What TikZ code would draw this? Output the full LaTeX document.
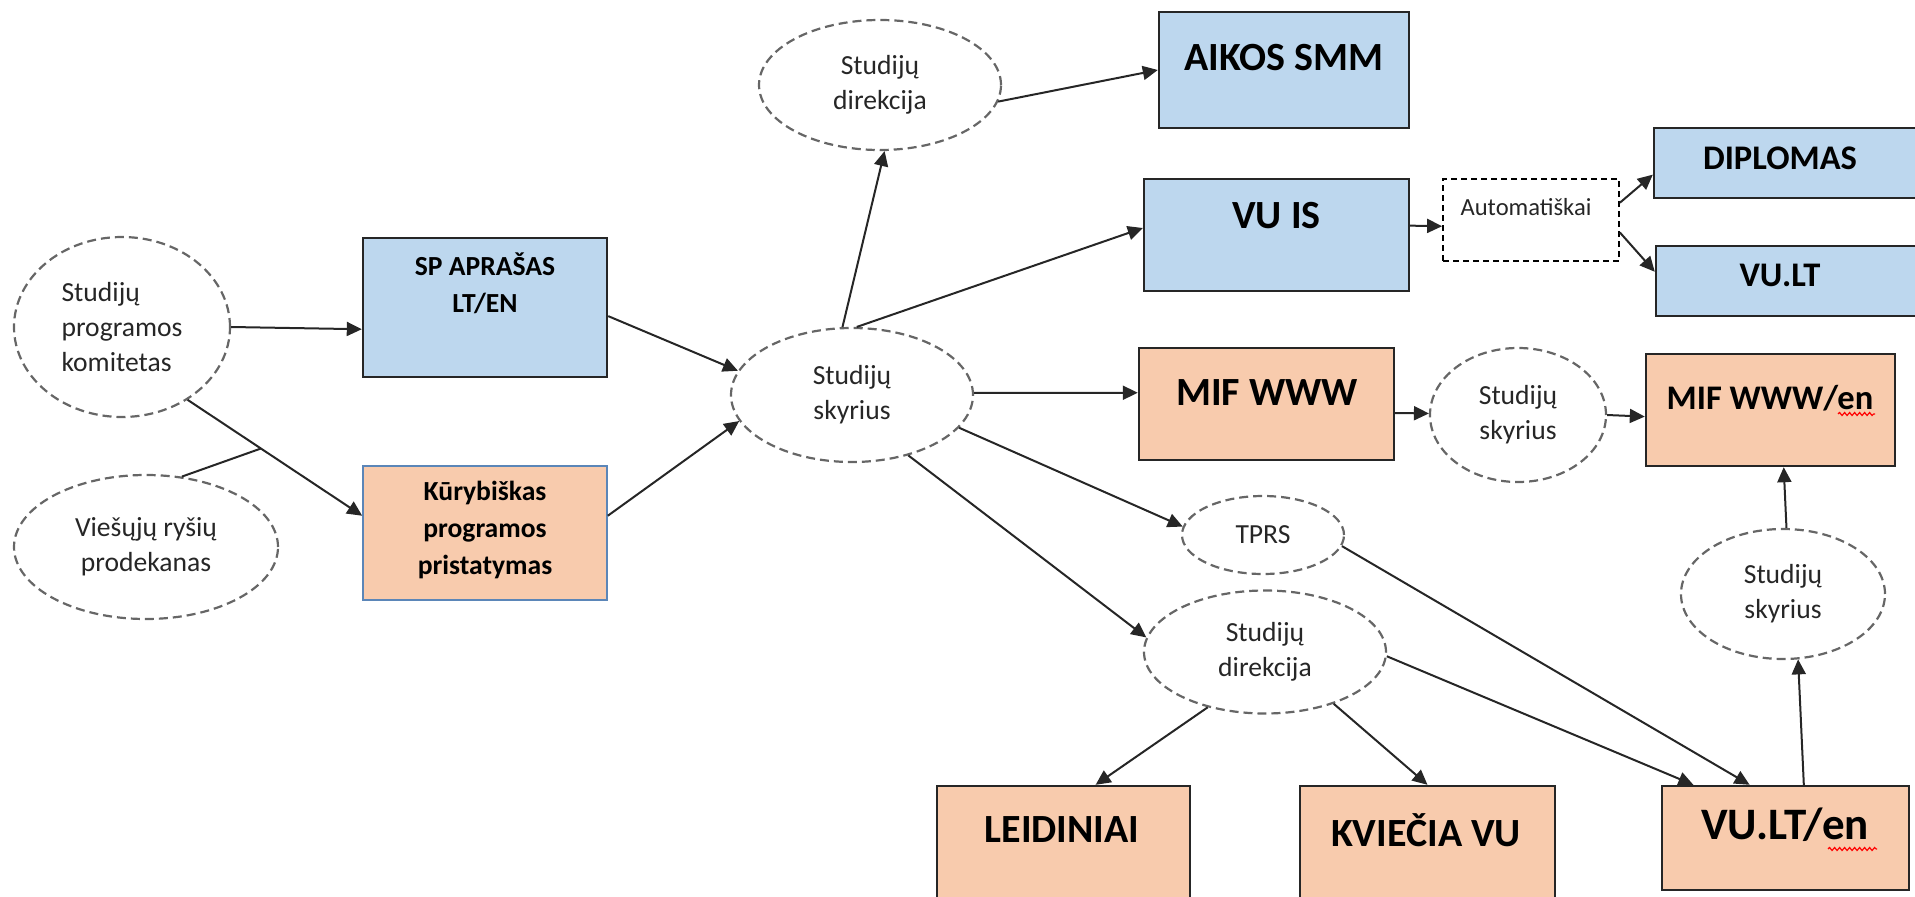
\documentclass[tikz,border=0pt]{standalone}
\usepackage{fontspec}
\setmainfont{Carlito}
\usepackage{tikz}
\usetikzlibrary{shapes.geometric,arrows.meta,calc,decorations.pathmorphing}
\definecolor{boxblue}{HTML}{BDD7EE}
\definecolor{boxorange}{HTML}{F8CBAD}
\definecolor{kurblue}{HTML}{5B86B8}

\begin{document}
\begin{tikzpicture}[x=1pt,y=-1pt,
  oval/.style={ellipse,draw=black!60,dash pattern=on 9pt off 5pt,line width=2.2pt,inner sep=0pt,align=center,text=black!85,font=\fontsize{27.6}{35}\selectfont},
  bluebox/.style={rectangle,draw=black!85,line width=2.4pt,fill=boxblue},
  orangebox/.style={rectangle,draw=black!85,line width=2.4pt,fill=boxorange},
  boldtxt/.style={font=\fontsize{27.6}{37}\selectfont\bfseries,align=center,inner sep=0pt},
  bigtxt/.style={font=\fontsize{40}{48}\selectfont\bfseries,inner sep=0pt},
  midtxt/.style={font=\fontsize{34.5}{40}\selectfont\bfseries,inner sep=0pt},
  arr/.style={-{Triangle[length=15pt,width=14pt]},line width=2pt,draw=black!85},
  spell/.style={draw=red,line width=1.2pt,decorate,decoration={snake,amplitude=1.5pt,segment length=5pt}}]
 \useasboundingbox (0,0) rectangle (1915,897);
 \clip (0,0) rectangle (1915,897);

 \node[oval,minimum width=216pt,minimum height=180pt,align=left] (komitetas) at (122,327) {Studijų\\programos\\komitetas};
 \node[oval,minimum width=264pt,minimum height=144pt] (viesieji) at (146,547) {Viešųjų ryšių\\prodekanas};
 \node[oval,minimum width=242pt,minimum height=134pt] (skyrius) at (852,395) {Studijų\\skyrius};
 \node[oval,minimum width=242pt,minimum height=130pt] (direk) at (880,85) {Studijų\\direkcija};
 \node[oval,minimum width=176pt,minimum height=134pt] (skyrius2) at (1518,415) {Studijų\\skyrius};
 \node[oval,minimum width=162pt,minimum height=78pt] (tprs) at (1263,535) {TPRS};
 \node[oval,minimum width=242pt,minimum height=123pt] (direk2) at (1265,652) {Studijų\\direkcija};
 \node[oval,minimum width=204pt,minimum height=130pt] (skyrius3) at (1783,594) {Studijų\\skyrius};

 \node[bluebox,minimum width=244pt,minimum height=139pt] (sp) at (485,307.5) {};
 \node[boldtxt] (sptxt) at (485,283.5) {SP APRAŠAS\\LT/EN};
 \node[orangebox,draw=kurblue,line width=1.6pt,minimum width=244pt,minimum height=134pt] (kury) at (485,533) {};
 \node[boldtxt] (kurytxt) at (485,530) {Kūrybiškas\\programos\\pristatymas};
 \node[bluebox,minimum width=250pt,minimum height=116pt] (aikos) at (1284,70) {};
 \node[bigtxt] (aikostxt) at (1284,58) {AIKOS SMM};
 \node[bluebox,minimum width=265pt,minimum height=112pt] (vuis) at (1276.5,235) {};
 \node[bigtxt] (vuistxt) at (1276.5,216) {VU IS};
 \node[rectangle,draw=black,dash pattern=on 6pt off 4pt,line width=1.8pt,minimum width=176pt,minimum height=82pt] (automat) at (1531,220) {};
 \node[font=\fontsize{24.6}{30}\selectfont,inner sep=0pt,text=black!85] (automattxt) at (1526,207) {Automatiškai};
 \node[bluebox,minimum width=264pt,minimum height=70pt] (diplomas) at (1786,163) {};
 \node[midtxt] (diplomastxt) at (1780,158) {DIPLOMAS};
 \node[bluebox,minimum width=262pt,minimum height=70pt] (vult) at (1787,281) {};
 \node[midtxt] (vulttxt) at (1780,275) {VU.LT};
 \node[orangebox,minimum width=255pt,minimum height=112pt] (mif) at (1266.5,404) {};
 \node[bigtxt] (miftxt) at (1267,393) {MIF WWW};
 \node[orangebox,minimum width=249pt,minimum height=112pt] (mifen) at (1770.5,410) {};
 \node[midtxt] (mifentxt) at (1770,398) {MIF WWW/en};
 \node[orangebox,minimum width=253pt,minimum height=174pt] (leid) at (1063.5,873) {};
 \node[bigtxt] (leidtxt) at (1062,830) {LEIDINIAI};
 \node[orangebox,minimum width=255pt,minimum height=174pt] (kviecia) at (1427.5,873) {};
 \node[bigtxt] (kvieciatxt) at (1426,830) {KVIEČIA VU};
 \node[orangebox,minimum width=247pt,minimum height=104pt] (vulten) at (1785.5,838) {};
 \node[font=\fontsize{45}{52}\selectfont\bfseries,inner sep=0pt] (vultentxt) at (1785,825) {VU.LT/en};

 \draw[spell] (1838,414) -- (1875,414);
 \draw[spell] (1828,849) -- (1877,849);

 \coordinate (join) at ($(komitetas.-48)!0.42!(kury.172)$);
 \draw[line width=2pt,draw=black!85] (viesieji.63) -- (join);
 \foreach \a/\b in {komitetas.0/sp.190, komitetas.-48/kury.172, sp.-4/skyrius.168, kury.8/skyrius.193,
   skyrius.98/direk.-86, direk.-8/aikos.west, skyrius.86/vuis.177, vuis.4/automat.184,
   automat.11/diplomas.185, automat.-8/vult.176, skyrius.1/mif.175, mif.-4/skyrius2.179,
   skyrius2.0/mifen.183, skyrius.-17/tprs.174, skyrius.-47/direk2.173, direk2.-136/leid.70,
   direk2.-37/kviecia.north, direk2.-2/vulten.150, tprs.-8/vulten.124, vulten.71/skyrius3.-77,
   skyrius3.87/mifen.-77}
   \draw[arr] (\a) -- (\b);
\end{tikzpicture}
\end{document}
